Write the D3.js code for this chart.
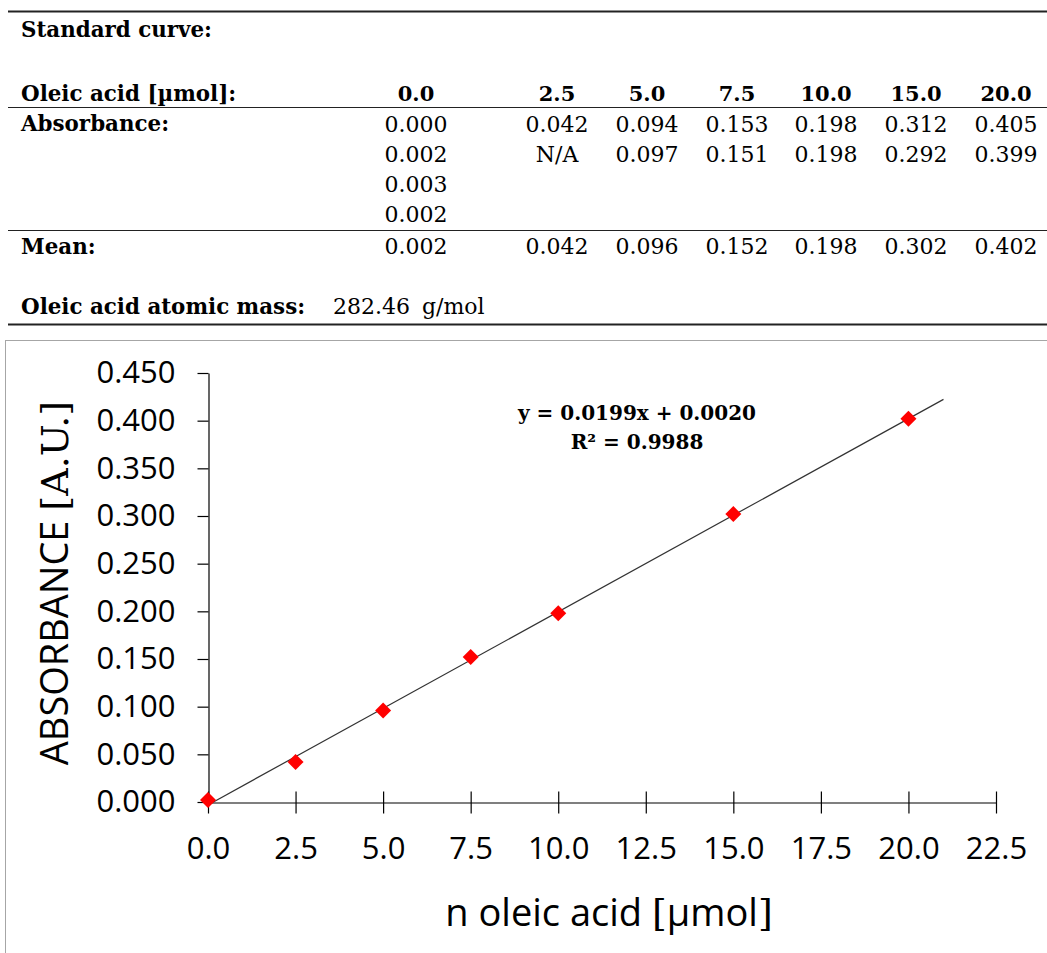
<!DOCTYPE html>
<html>
<head>
<meta charset="utf-8">
<script src="https://cdn.jsdelivr.net/npm/d3@7"></script>
<style>
  body { margin: 0; background: #fff; }
  svg { display: block; }
</style>
</head>
<body>
<div id="vis"></div>
<script>
// table + chart data
var concentrations = [0.0, 2.5, 5.0, 7.5, 10.0, 15.0, 20.0];
var absorbanceRep1 = [0.000, 0.042, 0.094, 0.153, 0.198, 0.312, 0.405];
var absorbanceRep2 = [0.002, "N/A", 0.097, 0.151, 0.198, 0.292, 0.399];
var absorbanceRep3 = [0.003];
var absorbanceRep4 = [0.002];
var meanAbsorbance = [0.002, 0.042, 0.096, 0.152, 0.198, 0.302, 0.402];
var atomicMass = "282.46";
var xTicks = [0, 2.5, 5, 7.5, 10, 12.5, 15, 17.5, 20, 22.5];
var yTicks = [0, 0.05, 0.1, 0.15, 0.2, 0.25, 0.3, 0.35, 0.4, 0.45];
var equationText = "y = 0.0199x + 0.0020";
var r2Text = "R² = 0.9988";

var width = 1047, height = 953;
var serif = "'DejaVu Serif', serif";
var sans = "'Open Sans', sans-serif";
var colX = [416, 557, 647, 737, 826, 916, 1006];

var svg = d3.select('#vis').append('svg')
    .attr('width', width)
    .attr('height', height);

// ---------- table ----------
var table = svg.append('g');

function rule(y, w) {
    table.append('line')
        .attr('x1', 8).attr('x2', width)
        .attr('y1', y).attr('y2', y)
        .attr('stroke', '#222').attr('stroke-width', w);
}
rule(11.5, 2);
rule(107.5, 1.2);
rule(230.5, 1.2);
rule(324.5, 2);

function label(txt, y) {
    table.append('text')
        .attr('x', 21).attr('y', y)
        .attr('font-family', serif).attr('font-weight', 'bold')
        .attr('font-size', '21.4px')
        .text(txt);
}
label('Standard curve:', 37);
label('Oleic acid [µmol]:', 101);
label('Absorbance:', 131);
label('Mean:', 254);
label('Oleic acid atomic mass:', 314);

function row(vals, y, bold, fmt) {
    table.selectAll(null)
        .data(vals)
        .enter().append('text')
        .attr('x', function(d, i) { return colX[i]; })
        .attr('y', y)
        .attr('text-anchor', 'middle')
        .attr('font-family', serif)
        .attr('font-weight', bold ? 'bold' : 'normal')
        .attr('font-size', bold ? '21px' : '22px')
        .text(function(d) { return typeof d === 'number' ? fmt(d) : d; });
}
row(concentrations, 101, true, d3.format('.1f'));
row(absorbanceRep1, 132, false, d3.format('.3f'));
row(absorbanceRep2, 162, false, d3.format('.3f'));
row(absorbanceRep3, 192, false, d3.format('.3f'));
row(absorbanceRep4, 222, false, d3.format('.3f'));
row(meanAbsorbance, 254, false, d3.format('.3f'));

var massText = table.append('text')
    .attr('x', 333).attr('y', 314)
    .attr('font-family', serif).attr('font-size', '22px');
massText.append('tspan').text(atomicMass);
massText.append('tspan').attr('dx', 12).text('g/mol');

// ---------- chart ----------
svg.append('rect')
    .attr('x', 5.5).attr('y', 340.5)
    .attr('width', width + 10).attr('height', height)
    .attr('fill', 'none').attr('stroke', '#a6a6a6');

var xScale = d3.scaleLinear().domain([0, 22.5]).range([208, 996]);
var yScale = d3.scaleLinear().domain([0, 0.45]).range([802, 373]);

var yAxis = svg.append('g')
    .attr('transform', 'translate(208.5,0)')
    .call(d3.axisLeft(yScale).tickValues(yTicks).tickFormat(d3.format('.3f'))
        .tickSize(11).tickSizeOuter(0).tickPadding(22));
yAxis.selectAll('text')
    .attr('font-family', sans).attr('font-size', '31px').attr('fill', '#000');

var xAxis = svg.append('g')
    .attr('transform', 'translate(0,802.5)')
    .call(d3.axisBottom(xScale).tickValues(xTicks).tickFormat(d3.format('.1f'))
        .tickSize(11).tickSizeOuter(0));
xAxis.selectAll('.tick line').attr('y1', -11).attr('y2', 11);
xAxis.selectAll('.tick text')
    .attr('y', 56).attr('dy', 0)
    .attr('font-family', sans).attr('font-size', '31px').attr('fill', '#000');

svg.selectAll('.domain, .tick line').attr('stroke', '#000').attr('stroke-width', 1.2);

// trend line (least squares on the means)
var pts = concentrations.map(function(c, i) { return { x: c, y: meanAbsorbance[i] }; });
var mx = d3.mean(pts, function(d) { return d.x; });
var my = d3.mean(pts, function(d) { return d.y; });
var slope = d3.sum(pts, function(d) { return (d.x - mx) * (d.y - my); }) /
            d3.sum(pts, function(d) { return (d.x - mx) * (d.x - mx); });
var intercept = my - slope * mx;

svg.append('line')
    .attr('x1', xScale(0)).attr('y1', yScale(intercept))
    .attr('x2', xScale(21)).attr('y2', yScale(intercept + slope * 21))
    .attr('stroke', '#333').attr('stroke-width', 1.2);

svg.selectAll('.pt')
    .data(pts)
    .enter().append('path')
    .attr('class', 'pt')
    .attr('d', 'M0,-8L8,0L0,8L-8,0Z')
    .attr('transform', function(d) { return 'translate(' + xScale(d.x) + ',' + yScale(d.y) + ')'; })
    .attr('fill', '#ff0000');

// equation
svg.append('text')
    .attr('x', 637).attr('y', 420)
    .attr('text-anchor', 'middle')
    .attr('font-family', serif).attr('font-weight', 'bold').attr('font-size', '20px')
    .text(equationText);
svg.append('text')
    .attr('x', 637).attr('y', 449)
    .attr('text-anchor', 'middle')
    .attr('font-family', serif).attr('font-weight', 'bold').attr('font-size', '20px')
    .text(r2Text);

// axis titles
var xt = svg.append('text')
    .attr('x', 609).attr('y', 926)
    .attr('text-anchor', 'middle')
    .attr('font-family', sans).attr('font-size', '38px');
xt.append('tspan').text('n oleic acid ');
xt.append('tspan').attr('font-family', serif).text('[');
xt.append('tspan').text('µmol');
xt.append('tspan').attr('font-family', serif).text(']');

var yt = svg.append('text')
    .attr('transform', 'translate(68,583) rotate(-90)')
    .attr('text-anchor', 'middle')
    .attr('font-family', sans).attr('font-size', '38px');
yt.append('tspan').text('ABSORBANCE ');
yt.append('tspan').attr('font-family', serif).text('[A.U.]');
</script>
</body>
</html>
